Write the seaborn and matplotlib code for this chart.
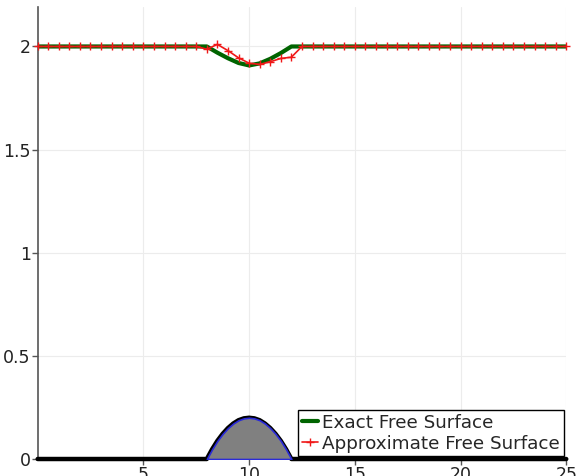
import numpy as np
import pandas as pd
import matplotlib
matplotlib.use("Agg")
import matplotlib.pyplot as plt
import seaborn as sns

# x positions of the sampled cells (every 0.5 from 0 to 25)
x_cells = np.arange(0, 25.01, 0.5)

# exact free surface (2.0 outside the bump)
exact_dip = {8.0: 2.0, 8.5: 1.97, 9.0: 1.943, 9.5: 1.92, 10.0: 1.908,
             10.5: 1.918, 11.0: 1.94, 11.5: 1.968, 12.0: 2.0}
exact_surface = [exact_dip.get(float(v), 2.0) for v in x_cells]

# approximate free surface
approx_dip = {8.0: 1.987, 8.5: 2.01, 9.0: 1.98, 9.5: 1.945, 10.0: 1.919,
              10.5: 1.913, 11.0: 1.926, 11.5: 1.942, 12.0: 1.948}
approx_surface = [approx_dip.get(float(v), 2.0) for v in x_cells]

# bottom topography (bump between 8 and 12)
bump_x = [0, 8.0, 8.25, 8.5, 8.75, 9.0, 9.25, 9.5, 9.75, 10.0, 10.25, 10.5,
          10.75, 11.0, 11.25, 11.5, 11.75, 12.0, 25]
bump_z = [0, 0.0, 0.047, 0.088, 0.122, 0.15, 0.172, 0.188, 0.197, 0.2, 0.197,
          0.188, 0.172, 0.15, 0.122, 0.088, 0.047, 0.0, 0]

x_ticks = [5, 10, 15, 20, 25]
y_ticks = [0, 0.5, 1, 1.5, 2]
y_labels = ["0", "0.5", "1", "1.5", "2"]

sns.set_style("whitegrid")
plt.rcParams["font.family"] = ["DejaVu Sans"]

fig = plt.figure(figsize=(5.79, 4.76), dpi=100)
ax = fig.add_axes([0.065, 0.0357, 0.913, 0.949])

df_exact = pd.DataFrame({"x": x_cells, "h": exact_surface})
df_approx = pd.DataFrame({"x": x_cells, "h": approx_surface})

# bottom: thick black outline, then grey fill with blue edge
sns.lineplot(x=bump_x, y=bump_z, ax=ax, color="black", lw=3.2, zorder=3,
             clip_on=False)
ax.fill_between(bump_x[1:-1], bump_z[1:-1], 0, facecolor="#808080",
                edgecolor="#2a2ad8", lw=1.2, zorder=4)

sns.lineplot(data=df_exact, x="x", y="h", ax=ax, color="#006400", lw=3,
             label="Exact Free Surface", zorder=5)
sns.lineplot(data=df_approx, x="x", y="h", ax=ax, color="#f01818", lw=1.2,
             marker="+", markersize=5.5, markeredgewidth=1.0, mec="#f01818",
             label="Approximate Free Surface", zorder=6, clip_on=False)

ax.set_xlim(0, 25)
ax.set_ylim(0, 2.19)
ax.set_xticks(x_ticks)
ax.set_yticks(y_ticks)
ax.set_yticklabels(y_labels)
ax.set_xlabel("")
ax.set_ylabel("")
ax.grid(True, color="#ececec", lw=0.8)
ax.tick_params(axis="both", labelsize=12.5, length=4, width=1, color="#555555",
               pad=1, labelcolor="#222222", bottom=True, left=True)
for side in ["top", "right"]:
    ax.spines[side].set_visible(False)
ax.spines["left"].set_color("#555555")
ax.spines["left"].set_linewidth(1.2)
ax.spines["bottom"].set_visible(False)

leg = ax.legend(loc="lower right", fontsize=13.2, handlelength=0.9,
                handletextpad=0.2, borderpad=0.2, labelspacing=0.15,
                borderaxespad=0.15, fancybox=False, framealpha=1)
leg.get_frame().set_edgecolor("black")
leg.get_frame().set_linewidth(1.0)
leg.set_zorder(10)

fig.savefig("out.png", dpi=100)
